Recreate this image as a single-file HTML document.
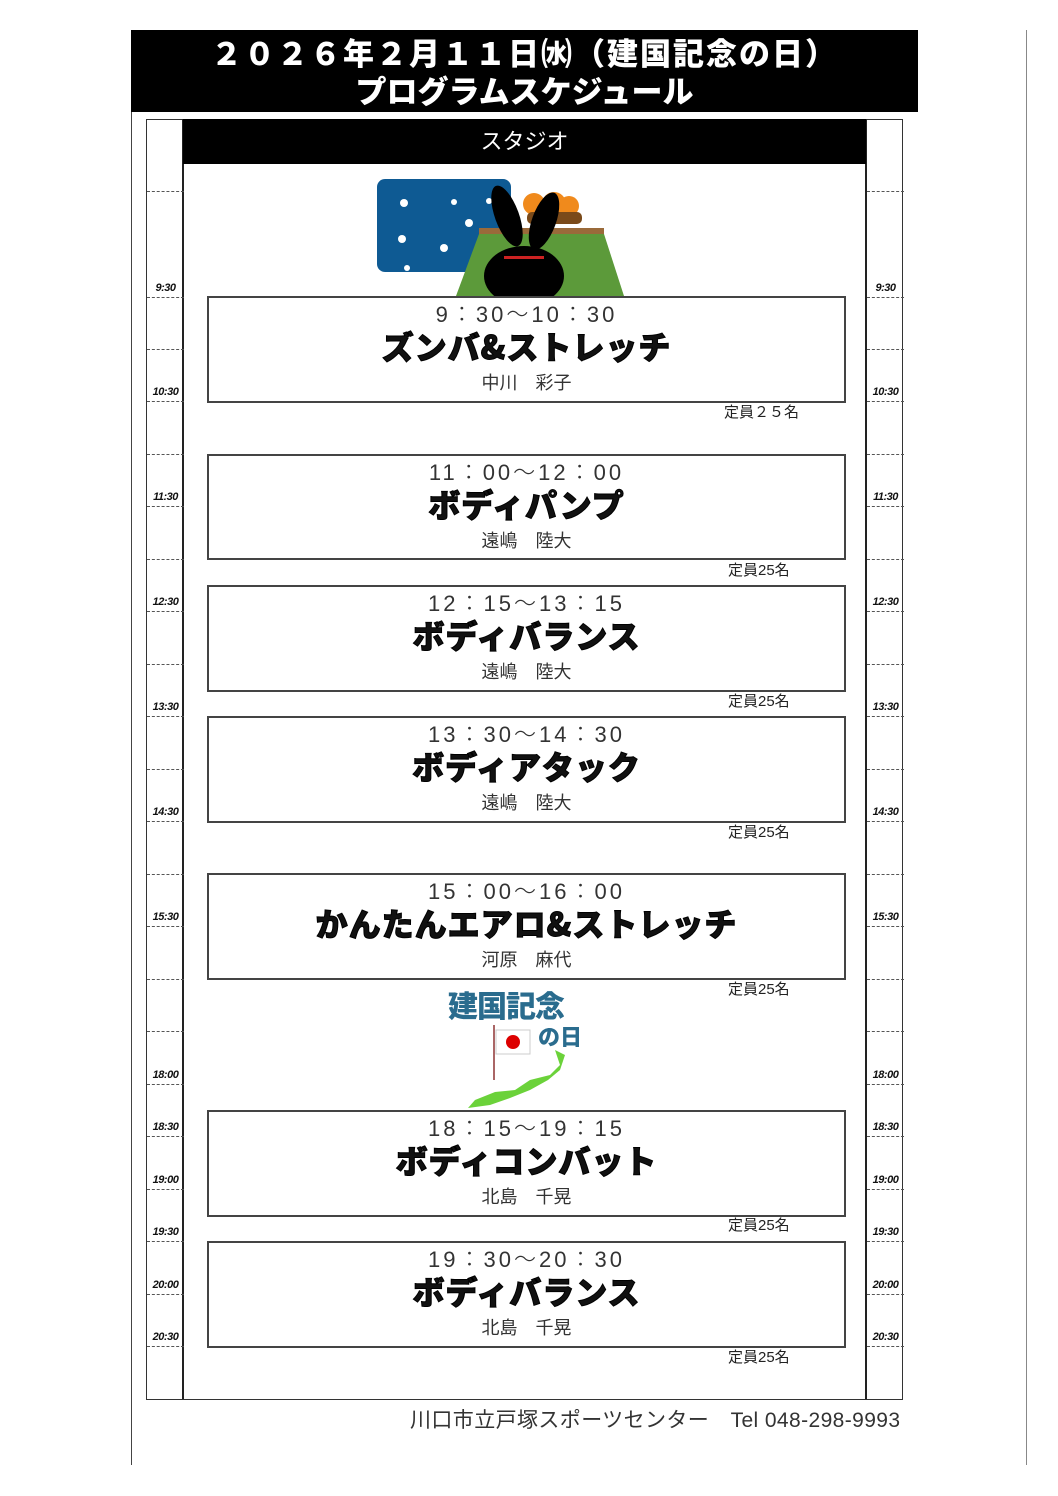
<!DOCTYPE html>
<html><head><meta charset="utf-8"><style>
body{margin:0;width:1058px;height:1496px;background:#fff;position:relative;overflow:hidden;font-family:"Liberation Sans","Noto Sans CJK JP",sans-serif}
.a{position:absolute}
.tl{position:absolute;left:0;width:37px;border-top:1px dashed #555}
.lb{position:absolute;font-size:11px;font-weight:bold;font-style:italic;color:#111;width:37px;text-align:center;letter-spacing:-0.5px}
.box{position:absolute;left:207px;width:635px;border:2px solid #444;background:#fff}
.tm{position:absolute;left:0;right:0;text-align:center;font-size:22px;color:#333;letter-spacing:3px;font-weight:300}
.tt{position:absolute;left:0;right:0;text-align:center;font-size:32px;font-weight:900;color:#111;-webkit-text-stroke:1px #000;letter-spacing:1px;font-family:"Noto Sans CJK JP",sans-serif}
.in{position:absolute;left:0;right:0;text-align:center;font-size:18px;color:#333}
.cap{position:absolute;left:728px;font-size:15px;color:#222}
</style></head><body>
<div class="a" style="left:131px;top:30px;width:787px;height:82px;background:#000;color:#fff;text-align:center;font-family:'Noto Sans CJK JP',sans-serif;font-weight:900">
<div style="font-size:31px;line-height:40px;margin-top:2px;letter-spacing:2px">２０２６年２月１１日㈬（建国記念の日）</div>
<div style="font-size:31px;line-height:36px">プログラムスケジュール</div></div>
<div class="a" style="left:131px;top:112px;width:1px;height:1353px;background:#444"></div>
<div class="a" style="left:1026px;top:30px;width:1px;height:1435px;background:#888"></div>
<div class="a" style="left:146px;top:119px;width:755px;height:1279px;border:1px solid #333"></div>
<div class="a" style="left:182px;top:119px;width:2px;height:1280px;background:#222"></div>
<div class="a" style="left:865px;top:119px;width:2px;height:1280px;background:#222"></div>
<div class="a" style="left:183px;top:119px;width:683px;height:45px;background:#000;color:#fff;text-align:center;font-size:22px;line-height:45px">スタジオ</div>

<div id="L" class="a" style="left:147px;top:0;width:36px;height:1400px"></div>
<div id="R" class="a" style="left:867px;top:0;width:36px;height:1400px"></div>

<svg class="a" style="left:374px;top:176px" width="256" height="124">
<rect x="3" y="3" width="134" height="93" rx="8" fill="#0e5a93"/>
<circle cx="30" cy="27" r="4" fill="#fff"/><circle cx="28" cy="63" r="4" fill="#fff"/><circle cx="33" cy="92" r="3" fill="#fff"/><circle cx="70" cy="72" r="4" fill="#fff"/><circle cx="95" cy="47" r="4" fill="#fff"/><circle cx="80" cy="26" r="3" fill="#fff"/><circle cx="115" cy="25" r="3" fill="#fff"/>
<circle cx="180" cy="28" r="12" fill="#f08a1c"/><circle cx="160" cy="28" r="11" fill="#f08a1c"/><circle cx="195" cy="30" r="10" fill="#f08a1c"/>
<rect x="153" y="36" width="55" height="12" rx="5" fill="#7a4a1a"/>
<rect x="105" y="52" width="125" height="8" fill="#9a6a3a"/>
<path d="M105 58 L230 58 L250 120 L82 120 Z" fill="#5c9a3a"/>
<ellipse cx="150" cy="100" rx="40" ry="30" fill="#000"/>
<ellipse cx="133" cy="40" rx="12" ry="32" fill="#000" transform="rotate(-20 133 40)"/>
<ellipse cx="170" cy="45" rx="12" ry="30" fill="#000" transform="rotate(20 170 45)"/>
<rect x="130" y="80" width="40" height="3" fill="#c22"/>
</svg>

<div class="a" style="left:448px;top:982px;font-size:30px;font-weight:900;color:#2a6c8e;font-family:'Noto Sans CJK JP',sans-serif;letter-spacing:-1px">建国記念</div>
<div class="a" style="left:538px;top:1020px;font-size:22px;font-weight:900;color:#2a6c8e;font-family:'Noto Sans CJK JP',sans-serif">の日</div>
<svg class="a" style="left:460px;top:1020px" width="140" height="92">
<rect x="33" y="5" width="2" height="55" fill="#a66"/>
<rect x="36" y="10" width="34" height="24" fill="#fff" stroke="#ccc"/>
<circle cx="53" cy="22" r="7" fill="#d00"/>
<path d="M95 30 L100 45 L90 55 L70 60 L55 70 L35 72 L15 80 L8 88 L30 85 L50 78 L70 70 L88 60 L100 50 L105 35 Z" fill="#6bd23a"/>
</svg>

<div class="box" style="top:296px;height:103px"><div class="tm" style="top:-1px">9：30～10：30</div><div class="tt" style="top:25px">ズンバ&amp;ストレッチ</div><div class="in" style="top:71px">中川　彩子</div></div>
<div class="cap" style="top:401px;left:724px">定員２５名</div>
<div class="box" style="top:454px;height:102px"><div class="tm" style="top:-1px">11：00～12：00</div><div class="tt" style="top:25px">ボディパンプ</div><div class="in" style="top:71px">遠嶋　陸大</div></div>
<div class="cap" style="top:559px">定員25名</div>
<div class="box" style="top:585px;height:103px"><div class="tm" style="top:-1px">12：15～13：15</div><div class="tt" style="top:25px">ボディバランス</div><div class="in" style="top:71px">遠嶋　陸大</div></div>
<div class="cap" style="top:690px">定員25名</div>
<div class="box" style="top:716px;height:103px"><div class="tm" style="top:-1px">13：30～14：30</div><div class="tt" style="top:25px">ボディアタック</div><div class="in" style="top:71px">遠嶋　陸大</div></div>
<div class="cap" style="top:821px">定員25名</div>
<div class="box" style="top:873px;height:103px"><div class="tm" style="top:-1px">15：00～16：00</div><div class="tt" style="top:25px">かんたんエアロ&amp;ストレッチ</div><div class="in" style="top:71px">河原　麻代</div></div>
<div class="cap" style="top:978px">定員25名</div>
<div class="box" style="top:1110px;height:103px"><div class="tm" style="top:-1px">18：15～19：15</div><div class="tt" style="top:25px">ボディコンバット</div><div class="in" style="top:71px">北島　千晃</div></div>
<div class="cap" style="top:1214px">定員25名</div>
<div class="box" style="top:1241px;height:103px"><div class="tm" style="top:-1px">19：30～20：30</div><div class="tt" style="top:25px">ボディバランス</div><div class="in" style="top:71px">北島　千晃</div></div>
<div class="cap" style="top:1346px">定員25名</div>

<div class="a" style="left:410px;top:1404px;font-size:21px;letter-spacing:0.4px;color:#333;white-space:nowrap">川口市立戸塚スポーツセンター　Tel 048-298-9993</div>

<script>
var lines=[191,297,349,401,454,506,559,611,664,716,769,821,874,926,979,1031,1084,1136,1189,1241,1294,1346];
var labels={297:"9:30",401:"10:30",506:"11:30",611:"12:30",716:"13:30",821:"14:30",926:"15:30",1084:"18:00",1136:"18:30",1189:"19:00",1241:"19:30",1294:"20:00",1346:"20:30"};
["L","R"].forEach(function(id){var c=document.getElementById(id),h="";lines.forEach(function(y){h+='<div class="tl" style="top:'+y+'px"></div>';if(labels[y])h+='<div class="lb" style="top:'+(y-15)+'px">'+labels[y]+'</div>';});c.innerHTML=h;});
</script>
</body></html>
